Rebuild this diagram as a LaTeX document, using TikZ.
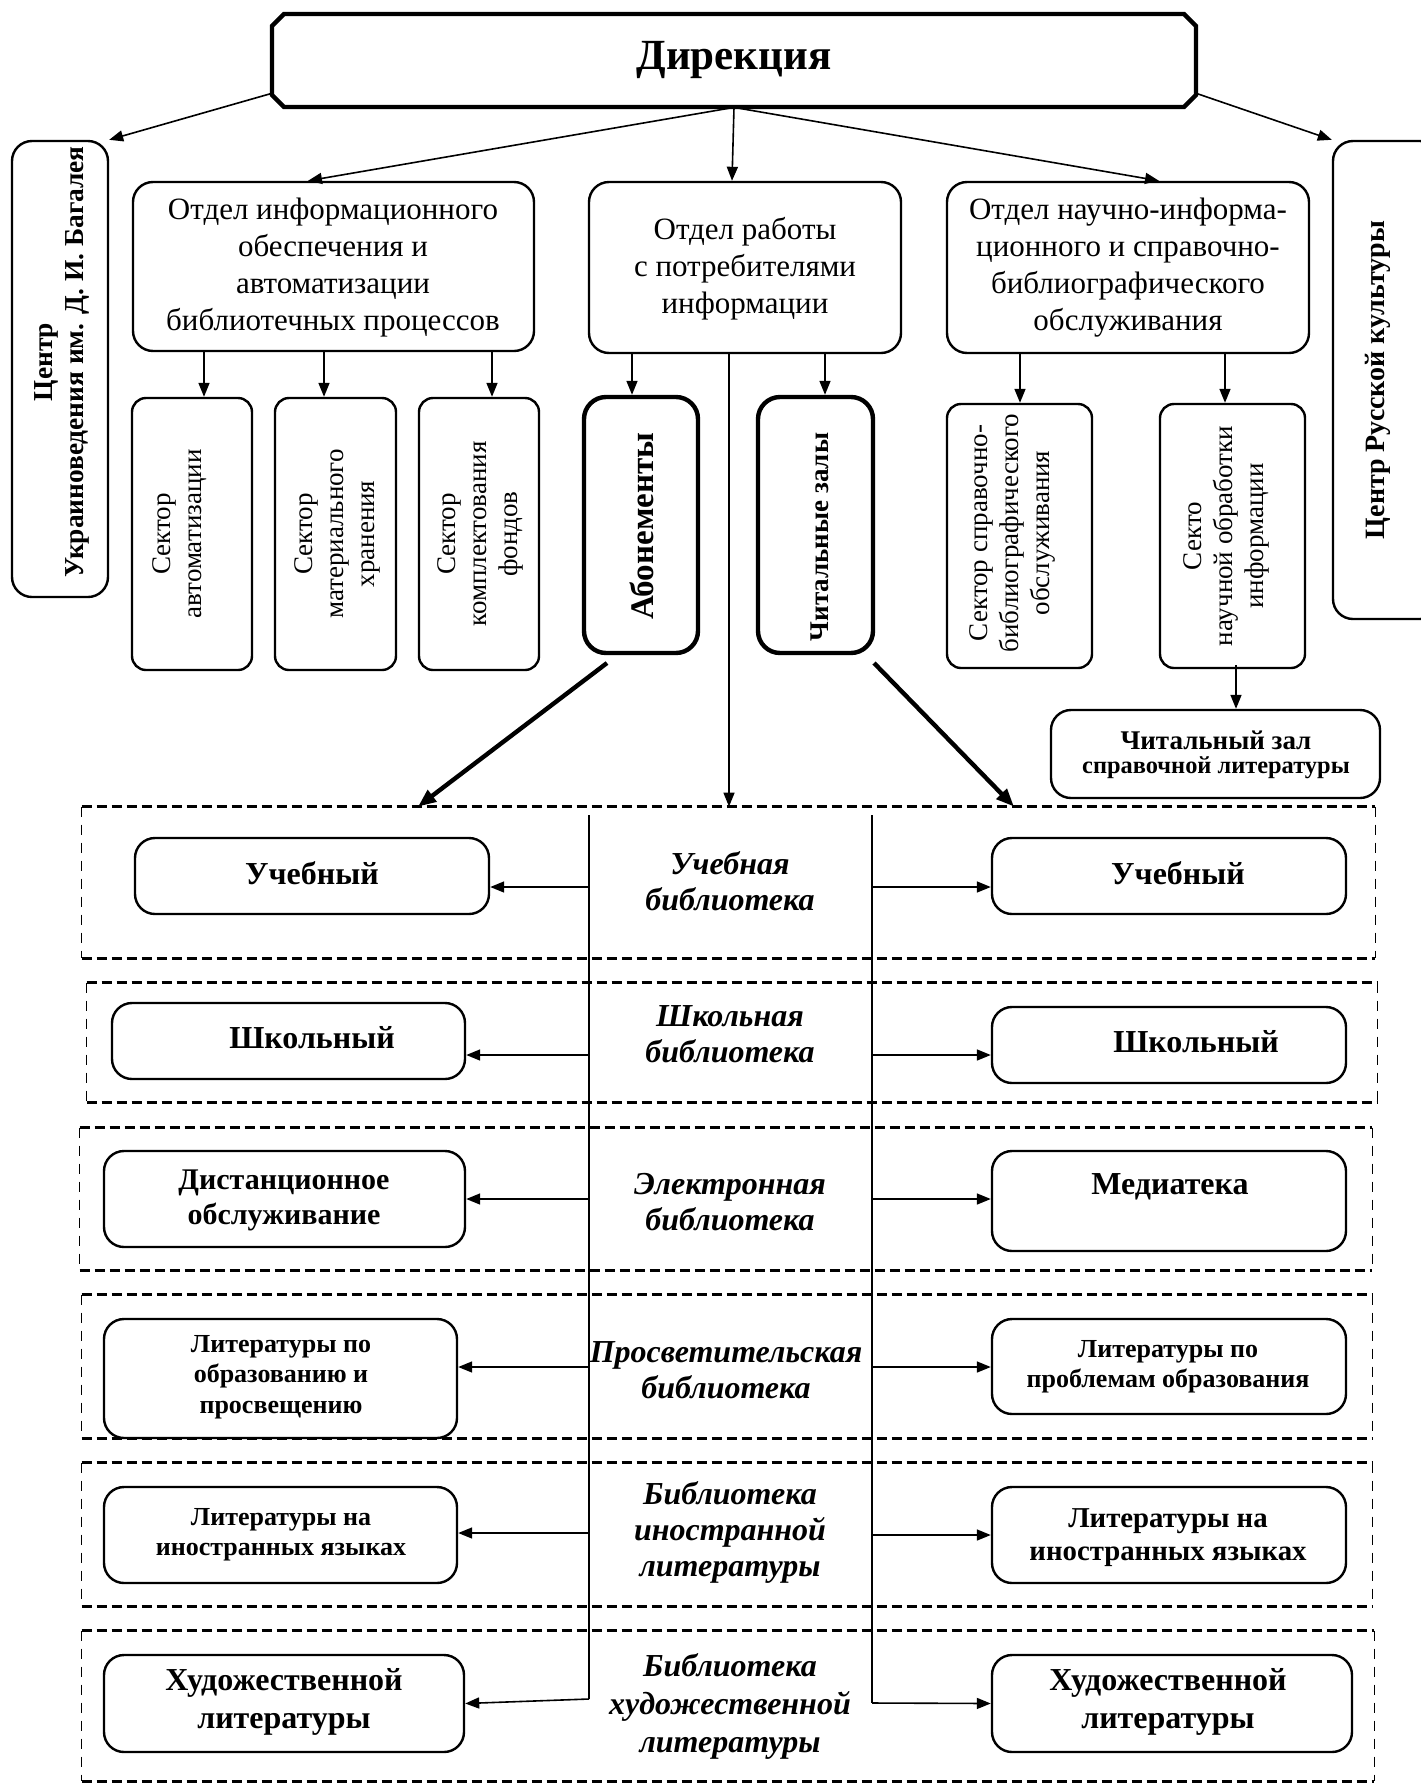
\documentclass[tikz,border=0pt]{standalone}
\usepackage{fontspec}
\setmainfont{Liberation Serif}
\usetikzlibrary{arrows.meta,calc}
\newcommand\fs[2]{\fontsize{#1}{#2}\selectfont}
\newcommand\placebox[6]{%
  \pgfmathsetmacro\bxcx{(#3+#5)/2}%
  \pgfmathsetmacro\bxcy{(#4+#6)/2}%
  \pgfmathsetmacro\bxw{(#5-#3)*0.5}%
  \pgfmathsetmacro\bxh{(#6-#4)*0.5}%
  \node[#1, minimum width=\bxw pt, minimum height=\bxh pt] (#2) at (\bxcx,\bxcy) {};}
\begin{document}
\begin{tikzpicture}[x=0.5pt,y=-0.5pt,
  rbox/.style={draw, line width=1.2pt, rounded corners=10pt, inner sep=0pt},
  tbox/.style={draw, line width=2.2pt, rounded corners=11pt, inner sep=0pt},
  sbox/.style={draw, line width=1.2pt, rounded corners=7pt, inner sep=0pt},
  frame/.style={draw=none, inner sep=0pt},
  txt/.style={align=center, inner sep=0pt},
  vtxt/.style={align=center, inner sep=0pt, rotate=90},
  arr/.style={line width=0.8pt, -{Triangle[length=7pt,width=5.5pt]}},
  thickarr/.style={line width=2.2pt, -{Triangle[length=9pt,width=7pt]}},
  ln/.style={line width=0.8pt},
  hdash/.style={line width=1.4pt, dash pattern=on 5pt off 2.5pt},
  vdash/.style={line width=0.7pt, dash pattern=on 5pt off 4pt},
]
\useasboundingbox (0,0) rectangle (1420,1783);

% ---------- Direction ----------
\placebox{draw=none, inner sep=0pt}{dir}{272}{14}{1196}{107}
\draw[line width=2.2pt] (284,14) -- (1184,14) -- (1196,26) -- (1196,95) -- (1184,107) -- (284,107) -- (272,95) -- (272,26) -- cycle;
\node[txt, font=\bfseries\fs{21.5}{24}] (dirt) at (734,60) {Дирекция};

% ---------- side centres ----------
\placebox{rbox}{lc}{12}{141}{108}{597}
\node[vtxt, font=\bfseries\fs{13.7}{15.5}] (lct) at (62,362) {Центр\\Украиноведения им. Д. И. Багалея};
\placebox{rbox}{rc}{1333}{141}{1440}{619}
\node[vtxt, font=\bfseries\fs{14}{15.5}] (rct) at (1378,380) {Центр Русской культуры};

% ---------- departments ----------
\placebox{rbox}{d1}{133}{182}{534}{351}
\node[txt, font=\fs{15.5}{18.5}] (d1t) at (333,268) {Отдел информационного\\обеспечения и\\автоматизации\\библиотечных процессов};
\placebox{rbox}{d2}{589}{182}{901}{353}
\node[txt, font=\fs{15.5}{18.5}] (d2t) at (745,269) {Отдел работы\\с потребителями\\информации};
\placebox{rbox}{d3}{947}{182}{1309}{353}
\node[txt, font=\fs{15.5}{18.5}] (d3t) at (1128,268) {Отдел научно-информа-\\ционного и справочно-\\библиографического\\обслуживания};

% ---------- sectors ----------
\placebox{sbox}{s1}{132}{398}{252}{670}
\node[vtxt, font=\fs{13.5}{15.5}] (s1t) at (180,534) {Сектор\\автоматизации};
\placebox{sbox}{s2}{275}{398}{396}{670}
\node[vtxt, font=\fs{13.5}{15.5}] (s2t) at (337,534) {Сектор\\материального\\хранения};
\placebox{sbox}{s3}{419}{398}{539}{670}
\node[vtxt, font=\fs{13.5}{15.5}] (s3t) at (480,534) {Сектор\\комплектования\\фондов};
\placebox{tbox}{ab}{584}{397}{698}{653}
\node[vtxt, font=\bfseries\fs{16.5}{18}] (abt) at (642,526) {Абонементы};
\placebox{tbox}{cz}{758}{397}{873}{653}
\node[vtxt, font=\bfseries\fs{13.5}{15}] (czt) at (820,537) {Читальные залы};
\placebox{sbox}{s4}{947}{404}{1092}{668}
\node[vtxt, font=\fs{13.5}{15.5}] (s4t) at (1012,533) {Сектор справочно-\\библиографического\\обслуживания};
\placebox{sbox}{s5}{1160}{404}{1305}{668}
\node[vtxt, font=\fs{13.5}{15.5}] (s5t) at (1226,536) {Секто\\научной обработки\\информации};
\placebox{rbox}{rz}{1051}{710}{1380}{798}
\node[txt, font=\bfseries] (rzt) at (1216,755) {\fs{13.5}{14}Читальный зал\\\fs{12.2}{14}справочной литературы};

% ---------- arrows top ----------
\draw[arr] ([yshift=7pt]dir.south west) -- (lc.north east);
\draw[arr] ([yshift=7pt]dir.south east) -- (rc.north west);
\coordinate (x308) at (308,0);
\coordinate (x732) at (732,0);
\coordinate (x1159) at (1159,0);
\draw[arr] (dir.south) -- (d1.north -| x308);
\draw[arr] (dir.south) -- (d2.north -| x732);
\draw[arr] (dir.south) -- (d3.north -| x1159);

\coordinate (x204) at (204,0);
\coordinate (x324) at (324,0);
\coordinate (x492) at (492,0);
\coordinate (x632) at (632,0);
\coordinate (x825) at (825,0);
\coordinate (x1020) at (1020,0);
\coordinate (x1225) at (1225,0);
\coordinate (x1236) at (1236,0);
\draw[arr] (d1.south -| x204) -- (s1.north -| x204);
\draw[arr] (d1.south -| x324) -- (s2.north -| x324);
\draw[arr] (d1.south -| x492) -- (s3.north -| x492);
\draw[arr] (d2.south -| x632) -- (ab.north -| x632);
\draw[arr] (d2.south -| x825) -- (cz.north -| x825);
\draw[arr] (d3.south -| x1020) -- (s4.north -| x1020);
\draw[arr] (d3.south -| x1225) -- (s5.north -| x1225);
\draw[arr] ([yshift=2pt]s5.south -| x1236) -- (rz.north -| x1236);

% ---------- frames ----------
\placebox{frame}{f1}{82}{807}{1375}{958}
\placebox{frame}{f2}{87}{983}{1377}{1102}
\placebox{frame}{f3}{80}{1128}{1372}{1270}
\placebox{frame}{f4}{82}{1295}{1372}{1438}
\placebox{frame}{f5}{82}{1463}{1372}{1606}
\placebox{frame}{f6}{82}{1631}{1374}{1781}
\foreach \f in {f1,f2,f3,f4,f5,f6}{
  \draw[hdash] (\f.north west) -- (\f.north east);
  \draw[hdash] (\f.south west) -- (\f.south east);
  \draw[vdash] (\f.north west) -- (\f.south west);
  \draw[vdash] (\f.north east) -- (\f.south east);
}

% ---------- arrows to the frames ----------
\coordinate (abo) at (607,663);
\coordinate (czo) at (874,663);
\coordinate (x418) at (418,0);
\coordinate (x1014) at (1014,0);
\coordinate (x729) at (729,0);
\draw[thickarr] (abo) -- (f1.north -| x418);
\draw[thickarr] (czo) -- (f1.north -| x1014);
\draw[arr] (d2.south -| x729) -- (f1.north -| x729);

% ---------- vertical lines ----------
\coordinate (v1top) at (589,815);
\coordinate (v1bot) at (589,1699);
\coordinate (v2top) at (872,815);
\coordinate (v2bot) at (872,1703);
\draw[ln] (v1top) -- (v1bot);
\draw[ln] (v2top) -- (v2bot);

% ---------- row boxes ----------
\placebox{rbox}{r1L}{135}{838}{489}{914}
\node[txt, font=\bfseries\fs{16}{18}] (r1Lt) at (312,873) {Учебный};
\placebox{rbox}{r1R}{992}{838}{1346}{914}
\node[txt, font=\bfseries\fs{16}{18}] (r1Rt) at (1178,873) {Учебный};

\placebox{rbox}{r2L}{112}{1003}{465}{1079}
\node[txt, font=\bfseries\fs{16}{18}] (r2Lt) at (312,1038) {Школьный};
\placebox{rbox}{r2R}{992}{1007}{1346}{1083}
\node[txt, font=\bfseries\fs{16}{18}] (r2Rt) at (1196,1042) {Школьный};

\placebox{rbox}{r3L}{104}{1151}{465}{1247}
\node[txt, font=\bfseries\fs{15}{17.5}] (r3Lt) at (284,1200) {Дистанционное\\обслуживание};
\placebox{rbox}{r3R}{992}{1151}{1346}{1251}
\node[txt, font=\bfseries\fs{16}{18}] (r3Rt) at (1170,1187) {Медиатека};

\placebox{rbox}{r4L}{104}{1319}{457}{1438}
\node[txt, font=\bfseries\fs{13}{15.3}] (r4Lt) at (281,1377) {Литературы по\\образованию и\\просвещению};
\placebox{rbox}{r4R}{992}{1319}{1346}{1414}
\node[txt, font=\bfseries\fs{13}{15}] (r4Rt) at (1168,1367) {Литературы по\\проблемам образования};

\placebox{rbox}{r5L}{104}{1487}{457}{1583}
\node[txt, font=\bfseries\fs{13}{15}] (r5Lt) at (281,1535) {Литературы на\\иностранных языках};
\placebox{rbox}{r5R}{992}{1487}{1346}{1583}
\node[txt, font=\bfseries\fs{14.4}{16.5}] (r5Rt) at (1168,1538) {Литературы на\\иностранных языках};

\placebox{rbox}{r6L}{104}{1655}{464}{1752}
\node[txt, font=\bfseries\fs{16}{19}] (r6Lt) at (284,1702) {Художественной\\литературы};
\placebox{rbox}{r6R}{992}{1655}{1352}{1752}
\node[txt, font=\bfseries\fs{16}{19}] (r6Rt) at (1168,1702) {Художественной\\литературы};

% ---------- row labels ----------
\node[txt, font=\bfseries\itshape\fs{16}{18}] (l1) at (730,881) {Учебная\\библиотека};
\node[txt, font=\bfseries\itshape\fs{16}{18}] (l2) at (730,1034) {Школьная\\библиотека};
\node[txt, font=\bfseries\itshape\fs{16}{18}] (l3) at (730,1202) {Электронная\\библиотека};
\node[txt, font=\bfseries\itshape\fs{16}{18}] (l4) at (726,1370) {Просветительская\\библиотека};
\node[txt, font=\bfseries\itshape\fs{16}{18}] (l5) at (730,1532) {Библиотека\\иностранной\\литературы};
\node[txt, font=\bfseries\itshape\fs{16}{19}] (l6) at (730,1706) {Библиотека\\художественной\\литературы};

% ---------- row arrows ----------
\coordinate (a1L) at (589,887);  \coordinate (a1R) at (872,887);
\coordinate (a2L) at (589,1055); \coordinate (a2R) at (872,1055);
\coordinate (a3L) at (589,1199); \coordinate (a3R) at (872,1199);
\coordinate (a4L) at (589,1367); \coordinate (a4R) at (872,1367);
\coordinate (a5L) at (589,1533); \coordinate (a5R) at (872,1535);
\draw[arr] (a1L) -- (a1L -| r1L.east);
\draw[arr] (a1R) -- (a1R -| r1R.west);
\draw[arr] (a2L) -- (a2L -| r2L.east);
\draw[arr] (a2R) -- (a2R -| r2R.west);
\draw[arr] (a3L) -- (a3L -| r3L.east);
\draw[arr] (a3R) -- (a3R -| r3R.west);
\draw[arr] (a4L) -- (a4L -| r4L.east);
\draw[arr] (a4R) -- (a4R -| r4R.west);
\draw[arr] (a5L) -- (a5L -| r5L.east);
\draw[arr] (a5R) -- (a5R -| r5R.west);
\draw[arr] (v1bot) -- (r6L.east);
\draw[arr] (v2bot) -- (r6R.west);
\end{tikzpicture}
\end{document}
